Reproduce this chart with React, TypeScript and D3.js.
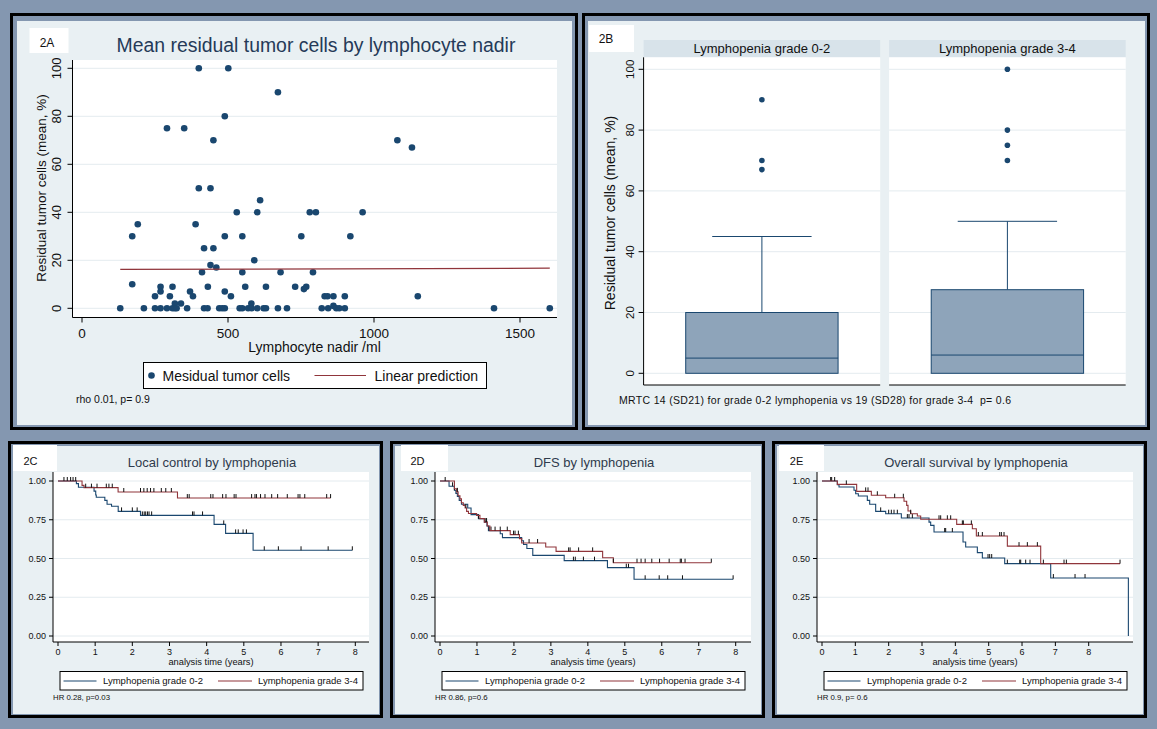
import * as d3 from "d3";

// 2A: lymphocyte nadir (/ml) vs mean residual tumor cells (%)
const nadir = [131, 172, 172, 191, 212, 250, 250, 269, 269, 269, 291, 291, 301, 310, 310, 318, 318, 324, 339, 350, 360, 370, 380, 389, 400, 400, 411, 418, 418, 430, 431, 440, 440, 450, 450, 460, 470, 480, 489, 489, 489, 489, 501, 510, 530, 540, 549, 549, 549, 559, 569, 580, 581, 590, 600, 600, 610, 622, 630, 630, 671, 671, 680, 702, 730, 751, 760, 768, 780, 791, 801, 821, 831, 841, 843, 861, 861, 871, 881, 900, 900, 919, 961, 1080, 1130, 1150, 1411, 1602];
const residual = [0, 10, 30, 35, 0, 5, 0, 9, 7, 0, 75, 0, 5, 9, 0, 2, 0, 0, 2, 75, 0, 7, 5, 35, 100, 50, 15, 25, 0, 0, 9, 50, 18, 70, 25, 17, 0, 0, 80, 30, 7, 0, 100, 5, 40, 0, 30, 15, 0, 9, 0, 2, 0, 20, 40, 0, 45, 0, 9, 0, 90, 0, 15, 0, 9, 30, 8, 9, 40, 15, 40, 0, 5, 5, 0, 5, 1, 0, 0, 5, 0, 30, 40, 70, 67, 5, 0, 0];
const predX = [131, 1602];
const predY = [16.2, 16.7];

// 2B: box plot by lymphopenia grade
const boxGroups = ["Lymphopenia grade 0-2", "Lymphopenia grade 3-4"];
const boxQ1 = [0, 0];
const boxMedian = [5, 6];
const boxQ3 = [20, 27.5];
const boxWhiskerHi = [45, 50];
const boxOutliers = [[67, 70, 90], [70, 75, 80, 100]];

// 2C: local control (Kaplan-Meier steps [time, survival], censor times)
const lcLow: [number, number][] = [[0, 1], [0.495, 0.983], [0.55, 0.96], [0.97, 0.935], [1.015, 0.91], [1.03, 0.895], [1.26, 0.875], [1.32, 0.85], [1.44, 0.837], [1.62, 0.804], [2.22, 0.778], [4.2, 0.72], [4.51, 0.662], [5.25, 0.553], [7.92, 0.553]];
const lcLowCens = [1.71, 2.0, 2.13, 2.27, 2.32, 2.36, 2.41, 2.45, 2.52, 3.62, 3.66, 3.89, 4.46, 4.78, 4.85, 4.98, 5.07, 5.55, 5.93, 6.54, 7.27, 7.92];
const lcHigh: [number, number][] = [[0, 1], [0.647, 0.972], [0.7, 0.957], [1.617, 0.929], [3.215, 0.89], [7.335, 0.89]];
const lcHighCens = [0.16, 0.25, 0.34, 0.405, 0.476, 0.745, 0.9, 1.05, 1.3, 1.37, 1.46, 1.77, 2.22, 2.31, 2.4, 2.49, 2.58, 2.78, 2.9, 3.05, 3.48, 3.53, 4.11, 4.17, 4.43, 4.52, 4.74, 4.79, 5.21, 5.3, 5.34, 5.45, 5.57, 5.75, 5.91, 6.17, 6.46, 6.51, 6.64, 7.23, 7.335];

// 2D: DFS
const dfsLow: [number, number][] = [[0, 1], [0.245, 0.966], [0.39, 0.94], [0.43, 0.92], [0.47, 0.9], [0.52, 0.875], [0.58, 0.85], [0.75, 0.826], [0.84, 0.783], [1.04, 0.757], [1.2, 0.735], [1.27, 0.71], [1.31, 0.68], [1.63, 0.66], [1.69, 0.635], [2.21, 0.615], [2.26, 0.59], [2.35, 0.565], [2.51, 0.52], [3.36, 0.486], [4.53, 0.441], [5.25, 0.366], [7.93, 0.366]];
const dfsLowCens = [0.34, 0.39, 1.04, 1.33, 1.38, 3.61, 3.66, 3.88, 4.18, 5.04, 5.1, 5.55, 5.93, 6.16, 6.56, 7.93];
const dfsHigh: [number, number][] = [[0, 1], [0.39, 0.95], [0.45, 0.93], [0.49, 0.905], [0.54, 0.885], [0.58, 0.86], [0.63, 0.843], [0.68, 0.826], [0.72, 0.804], [0.77, 0.79], [0.99, 0.778], [1.08, 0.757], [1.2, 0.735], [1.28, 0.71], [1.35, 0.68], [1.9, 0.654], [2.15, 0.628], [2.21, 0.6], [2.86, 0.574], [3.14, 0.546], [4.4, 0.505], [4.69, 0.473], [7.34, 0.473]];
const dfsHighCens = [0.14, 0.47, 0.7, 1.24, 1.26, 1.49, 1.63, 1.82, 1.99, 2.03, 2.12, 2.41, 2.64, 3.48, 3.52, 3.75, 4.13, 4.69, 5.33, 5.44, 5.55, 5.73, 5.94, 6.2, 6.5, 6.53, 6.63, 7.34];

// 2E: overall survival
const osLow: [number, number][] = [[0, 1], [0.46, 0.976], [0.51, 0.961], [0.96, 0.94], [1.01, 0.918], [1.09, 0.903], [1.36, 0.875], [1.43, 0.85], [1.61, 0.804], [1.91, 0.789], [2.38, 0.761], [3.21, 0.735], [3.26, 0.714], [3.36, 0.671], [4.23, 0.606], [4.31, 0.574], [4.66, 0.538], [4.81, 0.503], [5.48, 0.467], [6.86, 0.374], [9.19, 0]];
const osLowCens = [0.26, 0.29, 1.76, 2.0, 2.08, 2.16, 2.26, 2.56, 2.61, 2.71, 3.68, 3.71, 3.91, 4.98, 5.03, 5.09, 5.56, 5.93, 5.96, 6.11, 6.24, 6.94, 7.59, 7.89];
const osHigh: [number, number][] = [[0, 1], [0.46, 0.978], [1.04, 0.933], [1.48, 0.908], [1.91, 0.892], [2.46, 0.869], [2.54, 0.843], [2.58, 0.806], [2.66, 0.789], [2.86, 0.774], [2.96, 0.753], [4.04, 0.72], [4.51, 0.692], [4.63, 0.645], [5.56, 0.58], [6.56, 0.467], [8.94, 0.467]];
const osHighCens = [0.38, 0.73, 1.31, 1.38, 1.66, 2.18, 2.44, 2.66, 3.51, 3.56, 3.76, 3.86, 4.21, 4.24, 4.48, 4.69, 4.81, 5.33, 5.38, 5.46, 5.91, 6.16, 6.46, 6.64, 7.26, 7.33, 8.94];

const kmTimeTicks = [0, 1, 2, 3, 4, 5, 6, 7, 8];
const kmSurvTicks = [0, 0.25, 0.5, 0.75, 1];
const kmLegend = ["Lymphopenia grade 0-2", "Lymphopenia grade 3-4"];

const FONT = "'Liberation Sans', Arial, sans-serif";
const PAGE = "#8497b0";
const INNER = "#e9f0f3";
const STRIP = "#d8e3ea";
const GRID = "#e4ebef";
const NAVY = "#1a476f";
const MAROON = "#90353b";
const BOXFILL = "#8ea4ba";

function ScatterPanel() {
    const x = d3.scaleLinear().domain([0, 1500]).range([82, 520]);
    const y = d3.scaleLinear().domain([0, 100]).range([308.3, 68.3]);
    const left = 72.5, right = 557, top = 60, bottom = 317.5;
    const pred = d3
        .line<number>()
        .x((d) => x(d))
        .y((_, i) => y(predY[i]));

    return (
        <g>
            <rect x={11.5} y={14.5} width={565} height={414} fill={PAGE} stroke="#000" strokeWidth={3} />
            <rect x={17} y={21} width={555} height={404} fill={INNER} />
            <rect x={29.5} y={28} width={39} height={25} fill="#fff" />
            <text x={47} y={46.5} fontSize={12} textAnchor="middle" fill="#111">2A</text>
            <text x={316} y={52} fontSize={19.4} textAnchor="middle" fill="#253a58">
                Mean residual tumor cells by lymphocyte nadir
            </text>
            <rect x={left} y={top} width={right - left} height={bottom - top} fill="#fff" />
            {y.ticks(5).map((t) => (
                <g key={t}>
                    <line x1={left} x2={right} y1={y(t)} y2={y(t)} stroke={GRID} />
                    <line x1={left - 5} x2={left} y1={y(t)} y2={y(t)} stroke="#000" />
                    <text transform={`translate(${61},${y(t)}) rotate(-90)`} fontSize={13} textAnchor="middle" fill="#111">
                        {t}
                    </text>
                </g>
            ))}
            {x.ticks(3).map((t) => (
                <g key={t}>
                    <line x1={x(t)} x2={x(t)} y1={bottom} y2={bottom + 5} stroke="#000" />
                    <text x={x(t)} y={338} fontSize={13.5} textAnchor="middle" fill="#111">{t}</text>
                </g>
            ))}
            <line x1={left} x2={left} y1={top} y2={bottom} stroke="#000" />
            <line x1={left} x2={right} y1={bottom} y2={bottom} stroke="#000" />
            <text transform={`translate(45.5,188) rotate(-90)`} fontSize={13.5} textAnchor="middle" fill="#111">
                Residual tumor cells (mean, %)
            </text>
            <text x={314.5} y={352} fontSize={14} textAnchor="middle" fill="#111">Lymphocyte nadir /ml</text>
            {nadir.map((d, i) => (
                <circle key={i} cx={x(d)} cy={y(residual[i])} r={3.3} fill={NAVY} />
            ))}
            <path d={pred(predX) || undefined} fill="none" stroke={MAROON} strokeWidth={1.2} />
            <rect x={143.5} y={362.5} width={343} height={26} fill="#fff" stroke="#000" />
            <circle cx={151.5} cy={375.5} r={3.3} fill={NAVY} />
            <text x={162.5} y={380.5} fontSize={14} fill="#111">Mesidual tumor cells</text>
            <line x1={314.5} x2={366} y1={375.5} y2={375.5} stroke={MAROON} strokeWidth={1.2} />
            <text x={374.5} y={380.5} fontSize={14} fill="#111">Linear prediction</text>
            <text x={76} y={403} fontSize={10.5} fill="#111">rho 0.01, p= 0.9</text>
        </g>
    );
}

function BoxPanel() {
    const band = d3.scaleBand<string>().domain(boxGroups).range([643.6, 1125.7]).paddingInner(0.0363);
    const y = d3.scaleLinear().domain([0, 100]).range([373.3, 69.3]);
    const bw = band.bandwidth();
    const top = 57.3, bottom = 385;

    return (
        <g>
            <rect x={583.5} y={14.5} width={565} height={414} fill={PAGE} stroke="#000" strokeWidth={3} />
            <rect x={588} y={21} width={557} height={404} fill={INNER} />
            <rect x={589} y={25} width={45} height={27} fill="#fff" />
            <text x={606} y={43} fontSize={12} textAnchor="middle" fill="#111">2B</text>
            {boxGroups.map((g, i) => {
                const x0 = band(g) || 0;
                const cx = x0 + bw / 2;
                const boxW = bw * 0.644;
                const capW = bw * 0.42;
                return (
                    <g key={g}>
                        <rect x={x0} y={40} width={bw} height={top - 40} fill={STRIP} />
                        <text x={cx} y={52.7} fontSize={13} textAnchor="middle" fill="#111">{g}</text>
                        <rect x={x0} y={top} width={bw} height={bottom - top} fill="#fff" />
                        {y.ticks(5).map((t) => (
                            <line key={t} x1={x0} x2={x0 + bw} y1={y(t)} y2={y(t)} stroke={GRID} />
                        ))}
                        <line x1={x0} x2={x0 + bw} y1={bottom} y2={bottom} stroke="#000" />
                        <line x1={cx} x2={cx} y1={y(boxQ3[i])} y2={y(boxWhiskerHi[i])} stroke={NAVY} />
                        <line x1={cx - capW / 2} x2={cx + capW / 2} y1={y(boxWhiskerHi[i])} y2={y(boxWhiskerHi[i])} stroke={NAVY} />
                        <rect
                            x={cx - boxW / 2}
                            y={y(boxQ3[i])}
                            width={boxW}
                            height={y(boxQ1[i]) - y(boxQ3[i])}
                            fill={BOXFILL}
                            stroke={NAVY}
                        />
                        <line x1={cx - boxW / 2} x2={cx + boxW / 2} y1={y(boxMedian[i])} y2={y(boxMedian[i])} stroke={NAVY} />
                        {boxOutliers[i].map((o) => (
                            <circle key={o} cx={cx} cy={y(o)} r={2.8} fill={NAVY} />
                        ))}
                    </g>
                );
            })}
            <line x1={643.6} x2={643.6} y1={top} y2={bottom} stroke="#000" />
            {y.ticks(5).map((t) => (
                <g key={t}>
                    <line x1={638.6} x2={643.6} y1={y(t)} y2={y(t)} stroke="#000" />
                    <text transform={`translate(633.5,${y(t)}) rotate(-90)`} fontSize={11.5} textAnchor="middle" fill="#111">
                        {t}
                    </text>
                </g>
            ))}
            <text transform={`translate(614.5,213) rotate(-90)`} fontSize={14} textAnchor="middle" fill="#111">
                Residual tumor cells (mean, %)
            </text>
            <text x={619} y={404} fontSize={10.5} fill="#111" textLength={392} lengthAdjust="spacing">
                {"MRTC 14 (SD21) for grade 0-2 lymphopenia vs 19 (SD28) for grade 3-4\u00a0 p= 0.6"}
            </text>
        </g>
    );
}

interface KMProps {
    x0: number;
    label: string;
    labelBox: [number, number];
    labelX: number;
    title: string;
    low: [number, number][];
    lowCens: number[];
    high: [number, number][];
    highCens: number[];
    xEnd: number;
    hr: string;
}

function survAt(steps: [number, number][], t: number) {
    const i = d3.bisectRight(steps.map((s) => s[0]), t) - 1;
    return steps[Math.max(0, i)][1];
}

function KMPanel({ x0, label, labelBox, labelX, title, low, lowCens, high, highCens, xEnd, hr }: KMProps) {
    const xs = d3.scaleLinear().domain([0, 8]).range([50, xEnd]);
    const ys = d3.scaleLinear().domain([0, 1]).range([195, 40]);
    const step = d3
        .line<[number, number]>()
        .x((d) => xs(d[0]))
        .y((d) => ys(d[1]))
        .curve(d3.curveStepAfter);
    const left = 45, right = 361, top = 31, bottom = 201;
    const fmt = d3.format(".2f");
    const curves = [
        { steps: low, cens: lowCens, color: NAVY },
        { steps: high, cens: highCens, color: MAROON },
    ];

    return (
        <g transform={`translate(${x0},441)`}>
            <rect x={1.5} y={1.5} width={372} height={274} fill={PAGE} stroke="#000" strokeWidth={3} />
            <rect x={5} y={5} width={366} height={268} fill={INNER} />
            <rect x={labelBox[0]} y={4} width={labelBox[1]} height={26} fill="#fff" />
            <text x={labelX} y={23.5} fontSize={11} textAnchor="middle" fill="#111">{label}</text>
            <text x={204} y={26} fontSize={13} textAnchor="middle" fill="#2f3b4c">{title}</text>
            <rect x={left} y={top} width={right - left} height={bottom - top} fill="#fff" />
            {kmSurvTicks.map((t) => (
                <g key={t}>
                    <line x1={left} x2={right} y1={ys(t)} y2={ys(t)} stroke={GRID} />
                    <line x1={left - 4} x2={left} y1={ys(t)} y2={ys(t)} stroke="#000" />
                    <text x={38} y={ys(t) + 3} fontSize={9} textAnchor="end" fill="#111">{fmt(t)}</text>
                </g>
            ))}
            {kmTimeTicks.map((t) => (
                <g key={t}>
                    <line x1={xs(t)} x2={xs(t)} y1={bottom} y2={bottom + 4} stroke="#000" />
                    <text x={xs(t)} y={213.5} fontSize={9} textAnchor="middle" fill="#111">{t}</text>
                </g>
            ))}
            <line x1={left} x2={left} y1={top} y2={bottom} stroke="#000" />
            <line x1={left} x2={right} y1={bottom} y2={bottom} stroke="#000" />
            <text x={203} y={224.2} fontSize={9.3} textAnchor="middle" fill="#111">analysis time (years)</text>
            {curves.map((c, k) => (
                <g key={k}>
                    <path d={step(c.steps) || undefined} fill="none" stroke={c.color} strokeWidth={1.1} />
                    {c.cens.map((t, j) => {
                        const cy = ys(survAt(c.steps, t));
                        return <line key={j} x1={xs(t)} x2={xs(t)} y1={cy} y2={cy - 4} stroke="#111" />;
                    })}
                </g>
            ))}
            <rect x={52} y={230.5} width={303} height={18.5} fill="#fff" stroke="#000" />
            <line x1={55.5} x2={88.5} y1={240} y2={240} stroke={NAVY} strokeWidth={1.2} />
            <text x={95} y={243.3} fontSize={9.5} fill="#111">{kmLegend[0]}</text>
            <line x1={210} x2={244} y1={240} y2={240} stroke={MAROON} strokeWidth={1.2} />
            <text x={250} y={243.3} fontSize={9.5} fill="#111">{kmLegend[1]}</text>
            <text x={45} y={258.5} fontSize={7.8} fill="#111">{hr}</text>
        </g>
    );
}

export default function App() {
    return (
        <svg
            width={1157}
            height={729}
            style={{ position: "absolute", left: 0, top: 0, fontFamily: FONT }}
        >
            <rect x={0} y={0} width={1157} height={729} fill={PAGE} />
            <ScatterPanel />
            <BoxPanel />
            <KMPanel
                x0={8}
                label="2C"
                labelBox={[5, 44]}
                labelX={22.5}
                title="Local control by lymphopenia"
                low={lcLow}
                lowCens={lcLowCens}
                high={lcHigh}
                highCens={lcHighCens}
                xEnd={347.3}
                hr="HR 0.28, p=0.03"
            />
            <KMPanel
                x0={390}
                label="2D"
                labelBox={[11, 47]}
                labelX={27.5}
                title="DFS by lymphopenia"
                low={dfsLow}
                lowCens={dfsLowCens}
                high={dfsHigh}
                highCens={dfsHighCens}
                xEnd={345.7}
                hr="HR 0.86, p=0.6"
            />
            <KMPanel
                x0={772}
                label="2E"
                labelBox={[7, 45]}
                labelX={24.5}
                title="Overall survival by lymphopenia"
                low={osLow}
                lowCens={osLowCens}
                high={osHigh}
                highCens={osHighCens}
                xEnd={316.7}
                hr="HR 0.9, p= 0.6"
            />
        </svg>
    );
}
